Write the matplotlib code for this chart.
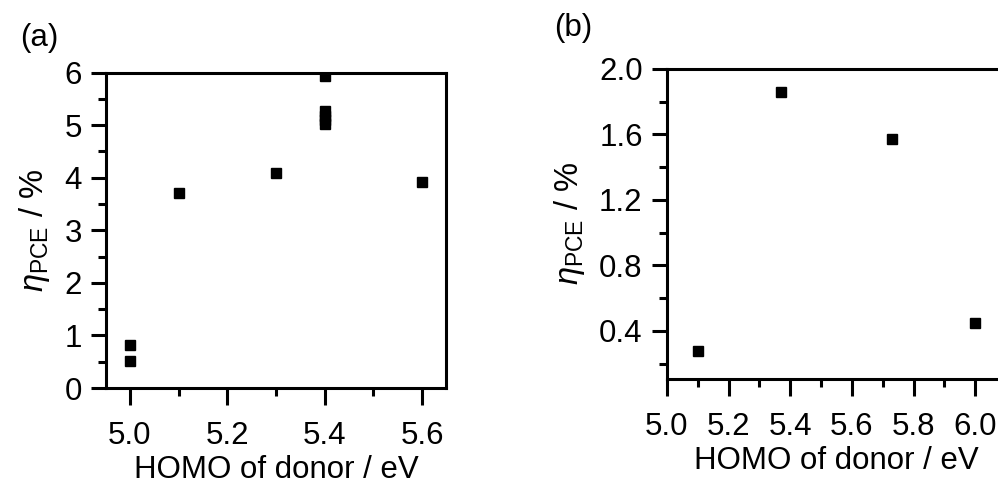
import matplotlib
matplotlib.use('Agg')
import matplotlib.pyplot as plt
from matplotlib.ticker import MultipleLocator

plt.rcParams['font.family'] = ['Liberation Sans', 'DejaVu Sans']
plt.rcParams['mathtext.fontset'] = 'custom'
plt.rcParams['mathtext.rm'] = 'Liberation Sans'
plt.rcParams['mathtext.it'] = 'Liberation Sans:italic'

# panel (a) data
homo_a = [5.0, 5.0, 5.1, 5.3, 5.4, 5.4, 5.4, 5.4, 5.4, 5.6]
pce_a = [0.52, 0.82, 3.70, 4.08, 5.02, 5.10, 5.18, 5.27, 5.93, 3.91]

# panel (b) data
homo_b = [5.1, 5.37, 5.73, 6.0]
pce_b = [0.28, 1.86, 1.57, 0.45]

fs = 22.5
ylab = r'$\eta_{\mathrm{PCE}}$ / %'

fig = plt.figure(figsize=(9.98, 4.86), dpi=100)

ax1 = fig.add_axes([0.1062, 0.2016, 0.3407, 0.6492])
ax2 = fig.add_axes([0.6683, 0.2202, 0.3397, 0.6379])

for ax, x, y in [(ax1, homo_a, pce_a), (ax2, homo_b, pce_b)]:
    ax.plot(x, y, 's', color='black', ms=7, clip_on=True)
    for s in ax.spines.values():
        s.set_linewidth(2.2)
    ax.tick_params(axis='both', which='both', direction='out', width=2.2,
                   labelsize=fs, top=False, right=False)
    ax.tick_params(axis='x', which='major', length=12.5, pad=11)
    ax.tick_params(axis='x', which='minor', length=6)
    ax.tick_params(axis='y', which='major', length=10.5, pad=7)
    ax.tick_params(axis='y', which='minor', length=5.5)
    ax.set_xlabel('HOMO of donor / eV', fontsize=fs, labelpad=3)
    ax.set_ylabel(ylab, fontsize=fs + 1, labelpad=9)

ax1.set_xlim(4.951, 5.649)
ax1.set_ylim(0, 6)
ax1.xaxis.set_major_locator(MultipleLocator(0.2))
ax1.xaxis.set_minor_locator(MultipleLocator(0.1))
ax1.yaxis.set_major_locator(MultipleLocator(1))
ax1.yaxis.set_minor_locator(MultipleLocator(0.5))
ax1.xaxis.set_major_formatter('{x:.1f}')

ax2.set_xlim(5.0, 6.1)
ax2.set_ylim(0.107, 2.0)
ax2.xaxis.set_major_locator(MultipleLocator(0.2))
ax2.xaxis.set_minor_locator(MultipleLocator(0.1))
ax2.yaxis.set_major_locator(MultipleLocator(0.4))
ax2.yaxis.set_minor_locator(MultipleLocator(0.2))
ax2.xaxis.set_major_formatter('{x:.1f}')
ax2.yaxis.set_major_formatter('{x:.1f}')

fig.text(0.039, 0.922, '(a)', fontsize=fs, ha='center', va='center')
fig.text(0.574, 0.942, '(b)', fontsize=fs, ha='center', va='center')

fig.savefig('out.png', dpi=100)
